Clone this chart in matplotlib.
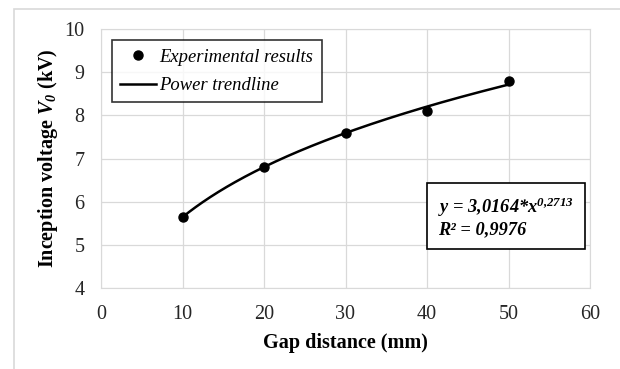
import numpy as np
import matplotlib
matplotlib.use("Agg")
import matplotlib.pyplot as plt
from matplotlib.patches import Rectangle

gap_mm = [10, 20, 30, 40, 50]
voltage_kv = [5.65, 6.8, 7.6, 8.1, 8.8]
x_ticks = [0, 10, 20, 30, 40, 50, 60]
y_ticks = [4, 5, 6, 7, 8, 9, 10]

plt.rcParams['font.family'] = ['Liberation Serif', 'DejaVu Serif']
plt.rcParams['mathtext.fontset'] = 'custom'
plt.rcParams['mathtext.rm'] = 'Liberation Serif'
plt.rcParams['mathtext.it'] = 'Liberation Serif:italic'
plt.rcParams['mathtext.bf'] = 'Liberation Serif:bold'
plt.rcParams['mathtext.bfit'] = 'Liberation Serif:bold:italic'

fig = plt.figure(figsize=(6.2, 3.69), dpi=100)
fig.patches.append(Rectangle((14/620, -0.1), 1.0, 1 - 9/369 + 0.1, transform=fig.transFigure,
                             fill=False, edgecolor='#d9d9d9', linewidth=1.2))
ax = fig.add_axes([101/620, 1 - 288/369, (590-101)/620, (288-29)/369])

# power fit from data (as a spreadsheet power trendline)
b, loga = np.polyfit(np.log(gap_mm), np.log(voltage_kv), 1)
a = np.exp(loga)
xf = np.linspace(min(gap_mm), max(gap_mm), 200)
yf = a * xf ** b

ax.plot(xf, yf, color='black', lw=1.8, label='Power trendline', zorder=3)
ax.plot(gap_mm, voltage_kv, 'o', color='black', ms=6.5, label='Experimental results', zorder=4)

ax.set_xlim(0, 60)
ax.set_ylim(4, 10)
ax.set_xticks(x_ticks)
ax.set_yticks(y_ticks)
ax.grid(True, color='#d9d9d9', lw=0.9)
ax.set_axisbelow(True)
for s in ax.spines.values():
    s.set_color('#d9d9d9')
ax.tick_params(length=0, labelsize=14.5, labelcolor='#262626')
ax.tick_params(axis='x', pad=12.5)
ax.tick_params(axis='y', pad=12)
ax.set_xlabel('Gap distance (mm)', fontsize=14.5, fontweight='bold', labelpad=6)
ax.set_ylabel(r'Inception voltage $\mathbfit{V}_{\mathbfit{0}}$ (kV)', fontsize=14.5,
              fontweight='bold', labelpad=3)

handles, labels = ax.get_legend_handles_labels()
leg = ax.legend(handles[::-1], labels[::-1], loc='upper left', bbox_to_anchor=(0.0225, 0.957),
                borderaxespad=0,
                prop={'style': 'italic', 'size': 13.4}, frameon=True, fancybox=False,
                edgecolor='black', handlelength=1.9, handletextpad=0.2, borderpad=0.45,
                labelspacing=0.62)
leg.get_frame().set_linewidth(1.2)

ax.text(0.689, 0.274, 'y = 3,0164*x$^{\\mathbfit{0{,}2713}}$\nR² = 0,9976', transform=ax.transAxes,
        fontsize=13.2, fontweight='bold', style='italic', va='center', ha='left',
        linespacing=1.12,
        bbox=dict(boxstyle='square,pad=0.62', facecolor='white', edgecolor='black', linewidth=1.2))

fig.savefig('out.png', dpi=100)
